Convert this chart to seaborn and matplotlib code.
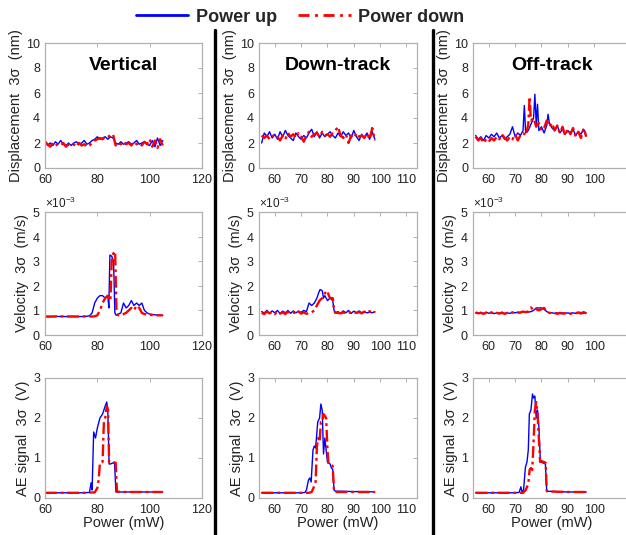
import numpy as np
import matplotlib
matplotlib.use("Agg")
import matplotlib.pyplot as plt
from matplotlib.lines import Line2D
from matplotlib.ticker import ScalarFormatter
import seaborn as sns

# ---------------- data ----------------
columns = ["Vertical", "Down-track", "Off-track"]

# Vertical
vert_power = [60, 61, 62, 63, 64, 65, 66, 67, 68, 69, 70, 71, 72, 73, 74, 75, 76, 77, 78, 79,
              80, 81, 82, 83, 84, 85, 86, 87, 88, 89, 90, 91, 92, 93, 94, 95, 96, 97, 98, 99,
              100, 101, 102, 103, 104, 105]
vert_disp_up = [2.2, 1.8, 2.0, 1.8, 2.1, 1.9, 2.2, 1.9, 1.8, 2.0, 1.8, 2.0, 2.1, 1.9, 2.0, 2.2, 1.9, 2.0, 2.2, 2.3,
                2.5, 2.3, 2.4, 2.5, 2.3, 2.5, 2.4, 2.0, 1.9, 2.1, 1.9, 2.0, 2.1, 1.9, 2.0, 2.2, 1.9, 2.0, 2.1, 1.9,
                1.8, 2.2, 1.7, 2.4, 1.8, 2.2]
vert_disp_down = [2.1, 1.9, 1.7, 2.0, 1.8, 1.9, 1.8, 2.0, 1.7, 1.9, 1.8, 1.9, 1.7, 2.0, 1.8, 1.9, 1.7, 1.8, 2.0, 2.2,
                  2.3, 2.4, 2.3, 2.5, 2.5, 2.6, 2.7, 1.8, 2.0, 1.9, 2.1, 1.9, 2.0, 1.8, 2.1, 1.9, 2.0, 1.8, 2.1, 1.9,
                  2.3, 1.7, 2.2, 1.6, 2.3, 1.8]
vert_vel_up_x = [60, 62, 64, 66, 68, 70, 72, 74, 76, 77, 78, 79, 80, 81, 82, 83, 84, 84.4, 84.8, 85.5,
                 86.2, 86.7, 87.2, 88, 89, 90, 91, 92, 93, 94, 95, 96, 97, 98, 99, 100, 102, 104, 105]
vert_vel_up = [0.75, 0.75, 0.76, 0.75, 0.75, 0.76, 0.75, 0.75, 0.76, 0.78, 0.9, 1.3, 1.5, 1.6, 1.6, 1.5, 1.6,
               1.1, 3.25, 3.2, 3.0, 0.9, 0.8, 0.85, 0.9, 1.3, 1.1, 1.2, 1.4, 1.2, 1.3, 1.2, 1.3, 1.0, 0.9,
               0.85, 0.82, 0.8, 0.8]
vert_vel_down_x = [60, 62, 64, 66, 68, 70, 72, 74, 76, 78, 79, 80, 81, 82, 83, 84, 85, 85.5, 86, 86.8,
                   87.3, 88, 89, 90, 91, 92, 93, 94, 95, 96, 97, 98, 100, 102, 104, 105]
vert_vel_down = [0.75, 0.75, 0.75, 0.76, 0.75, 0.75, 0.75, 0.76, 0.75, 0.75, 0.76, 0.8, 1.0, 1.3, 1.5, 1.6,
                 1.4, 3.0, 3.3, 3.4, 1.0, 0.8, 0.8, 0.85, 0.9, 1.0, 1.1, 1.0, 1.2, 1.1, 0.9, 0.85, 0.82,
                 0.8, 0.8, 0.8]
vert_ae_up_x = [60, 65, 70, 75, 77, 77.6, 78.0, 78.6, 79.3, 80, 81, 82, 83, 83.6, 84.0, 84.5, 85, 86,
                86.6, 87.1, 90, 95, 100, 105]
vert_ae_up = [0.13, 0.13, 0.13, 0.13, 0.14, 0.38, 0.2, 1.65, 1.5, 1.75, 2.0, 2.1, 2.3, 2.4, 2.2, 0.85,
              0.85, 0.88, 0.85, 0.15, 0.15, 0.15, 0.15, 0.15]
vert_ae_down_x = [60, 65, 70, 75, 79, 80, 80.5, 81, 82, 82.5, 83, 83.6, 84.1, 84.5, 85, 86, 87, 87.5,
                  90, 95, 100, 105]
vert_ae_down = [0.13, 0.13, 0.13, 0.13, 0.14, 0.25, 0.45, 0.88, 0.9, 1.9, 2.0, 2.3, 2.2, 0.9, 0.9, 0.9,
                0.88, 0.16, 0.15, 0.15, 0.15, 0.15]

# Down-track
down_power = [55, 56, 57, 58, 59, 60, 61, 62, 63, 64, 65, 66, 67, 68, 69, 70, 71, 72, 73, 74,
              75, 76, 77, 78, 79, 80, 81, 82, 83, 84, 85, 86, 87, 88, 89, 90, 91, 92, 93, 94,
              95, 96, 97, 98]
down_disp_up = [2.0, 2.8, 2.5, 2.9, 2.4, 2.7, 2.3, 2.9, 2.5, 3.0, 2.6, 2.4, 2.2, 2.8, 2.5, 2.3, 2.6, 2.4, 2.8, 3.1,
                2.5, 2.9, 2.4, 2.8, 2.5, 2.7, 2.9, 2.6, 2.4, 2.8, 2.5, 2.9, 2.6, 2.8, 2.4, 3.0, 2.5, 2.2, 2.7, 2.4,
                2.8, 2.3, 2.9, 2.3]
down_disp_down = [2.6, 2.4, 2.6, 2.3, 2.5, 2.7, 2.5, 2.2, 2.6, 2.3, 2.8, 2.5, 2.7, 2.4, 2.8, 2.5, 2.1, 2.6, 2.9, 2.5,
                  2.7, 2.8, 2.5, 2.9, 2.6, 2.7, 2.5, 2.8, 3.0, 3.3, 2.6, 2.4, 2.7, 2.0, 2.6, 2.4, 2.8, 2.5, 2.6, 2.4,
                  2.8, 2.3, 3.2, 2.2]
down_vel_up_x = [55, 56, 57, 58, 59, 60, 61, 62, 63, 64, 65, 66, 67, 68, 69, 70, 71, 72,
                 73, 74, 75, 76, 76.6, 77.2, 78, 78.5, 79, 80, 81, 82, 82.5, 83,
                 84, 85, 86, 87, 88, 89, 90, 91, 92, 93, 94, 95, 96, 97, 98]
down_vel_up = [0.95, 0.9, 1.0, 0.88, 0.98, 0.9, 1.0, 0.87, 0.97, 0.9, 1.0, 0.88, 0.98, 0.9, 0.97, 0.92, 1.0, 0.95,
               1.3, 1.2, 1.3, 1.5, 1.7, 1.85, 1.8, 1.5, 1.6, 1.4, 1.5, 1.4, 1.0, 0.9,
               0.95, 0.88, 0.98, 0.9, 1.0, 0.88, 0.97, 0.9, 0.98, 0.9, 0.95, 0.9, 0.93, 0.9, 0.95]
down_vel_down_x = [55, 56, 57, 58, 59, 60, 61, 62, 63, 64, 65, 66, 67, 68, 69, 70, 71, 72, 73, 74,
                   75, 76, 77, 78, 79, 80, 80.5, 81, 82, 82.5, 83,
                   84, 85, 86, 87, 88, 89, 90, 91, 92, 93, 94, 95, 96, 97, 98]
down_vel_down = [0.9, 0.85, 0.95, 0.88, 0.93, 0.85, 0.95, 0.87, 0.92, 0.85, 0.95, 0.88, 0.93, 0.86, 0.95, 0.87,
                 0.92, 0.86, 0.9, 0.92,
                 1.0, 1.2, 1.4, 1.5, 1.7, 1.8, 1.6, 1.5, 1.5, 1.0, 0.9,
                 0.9, 0.88, 0.92, 0.87, 0.93, 0.88, 0.92, 0.9, 0.93, 0.88, 0.95, 0.9, 0.97, 0.88, 0.95]
down_ae_up_x = [55, 60, 65, 70, 71.5, 72, 72.8, 73.3, 73.8, 74.5, 75, 75.5, 76.3, 77, 77.5, 78, 78.5, 79,
                79.5, 80, 81, 81.5, 82, 82.5, 83, 85, 90, 95, 98]
down_ae_up = [0.13, 0.13, 0.13, 0.13, 0.14, 0.2, 0.45, 0.5, 0.4, 1.2, 1.3, 1.25, 1.9, 2.0, 2.35, 2.2, 1.1,
              1.5, 1.2, 0.9, 0.85, 0.75, 0.72, 0.2, 0.17, 0.17, 0.16, 0.16, 0.15]
down_ae_down_x = [55, 60, 65, 70, 73, 74, 75, 75.5, 76, 76.5, 77, 77.5, 78, 78.5, 79, 79.5, 80, 80.4, 81,
                  82, 82.5, 85, 90, 95, 98]
down_ae_down = [0.13, 0.13, 0.13, 0.13, 0.13, 0.15, 0.3, 0.4, 1.3, 1.5, 1.4, 1.9, 1.9, 2.1, 2.05, 2.0, 1.2,
                0.85, 0.85, 0.8, 0.15, 0.15, 0.15, 0.15, 0.15]

# Off-track
off_disp_up_x = [55, 56, 57, 58, 59, 60, 61, 62, 63, 64, 65, 66, 67, 68, 69, 70, 71, 72, 73,
                 73.5, 74, 75, 76, 77, 77.5, 78, 78.5, 79, 80, 81, 82, 82.5, 83,
                 84, 85, 86, 87, 88, 89, 90, 91, 92, 93, 94, 95, 96, 97]
off_disp_up = [2.6, 2.3, 2.5, 2.2, 2.6, 2.4, 2.7, 2.5, 2.8, 2.4, 2.6, 2.3, 2.5, 2.7, 3.3, 2.5, 2.8, 2.6, 3.0,
               5.0, 2.8, 3.0, 3.5, 4.0, 5.9, 3.5, 5.1, 3.0, 3.3, 2.8, 3.4, 4.3, 3.6,
               3.2, 3.0, 3.4, 2.8, 3.1, 2.7, 3.0, 2.8, 3.1, 2.6, 2.9, 2.7, 3.1, 2.6]
off_disp_down_x = [55, 56, 57, 58, 59, 60, 61, 62, 63, 64, 65, 66, 67, 68, 69, 70, 71, 72, 73, 74, 75,
                   75.5,
                   76, 77, 78, 79, 80, 81, 82, 83, 84, 85, 86, 87, 88, 89, 90, 91, 92, 93, 94, 95, 96, 97]
off_disp_down = [2.5, 2.2, 2.4, 2.0, 2.3, 2.1, 2.4, 2.2, 2.5, 2.3, 2.7, 2.4, 2.2, 2.5, 2.3, 2.7, 2.2, 2.6, 2.8,
                 2.6, 3.5,
                 5.7,
                 3.8, 4.0, 3.3, 3.6, 3.0, 3.2, 3.8, 3.3, 3.6, 3.0, 3.4, 2.8, 3.3, 2.6, 3.1, 2.7, 3.2, 2.5,
                 2.9, 2.4, 3.2, 2.5]
off_power = [55, 56, 57, 58, 59, 60, 61, 62, 63, 64, 65, 66, 67, 68, 69, 70, 71, 72, 73, 74,
             75, 76, 77, 78, 79, 80, 81, 82, 83, 84, 85, 86, 87, 88, 89, 90, 91, 92, 93, 94,
             95, 96, 97]
off_vel_up = [0.9, 0.88, 0.92, 0.87, 0.93, 0.88, 0.92, 0.87, 0.9, 0.88, 0.93, 0.87, 0.9, 0.88, 0.92, 0.9,
              0.93, 0.9, 0.95, 0.92, 0.93,
              0.95, 1.0, 1.1, 1.1, 1.1, 1.05, 0.95, 0.9,
              0.9, 0.88, 0.9, 0.87, 0.9, 0.88, 0.9, 0.87, 0.9, 0.88, 0.9, 0.92, 0.88, 0.9]
off_vel_down = [0.92, 0.88, 0.9, 0.86, 0.9, 0.87, 0.92, 0.86, 0.9, 0.87, 0.9, 0.86, 0.9, 0.88, 0.92, 0.88,
                0.9, 0.92, 0.95, 0.93,
                0.95, 1.12, 1.0, 1.05, 1.0, 1.05, 1.1, 0.95, 0.9,
                0.88, 0.9, 0.86, 0.9, 0.87, 0.88, 0.9, 0.86, 0.9, 0.88, 0.92, 0.87, 0.93, 0.88]
off_ae_up_x = [55, 60, 65, 70, 71.5, 72.2, 72.6, 73.2, 73.9, 74.5, 75.0, 75.4, 76.0, 76.6, 77.0, 77.5,
               78.0, 78.5, 79.0, 79.6, 80.5, 81.5, 82.0, 85, 90, 95, 97]
off_ae_up = [0.13, 0.13, 0.13, 0.13, 0.14, 0.28, 0.15, 0.2, 0.77, 0.9, 1.2, 2.1, 2.2, 2.6, 2.5, 2.55, 2.0,
             2.2, 1.8, 0.9, 0.88, 0.85, 0.17, 0.16, 0.15, 0.15, 0.15]
off_ae_down_x = [55, 60, 65, 70, 73, 74, 75, 75.5, 76, 76.5, 77, 77.5, 78, 78.5, 79, 79.5, 80, 81, 81.6,
                 82.0, 85, 90, 95, 97]
off_ae_down = [0.13, 0.13, 0.13, 0.13, 0.13, 0.2, 0.35, 0.7, 0.75, 0.7, 1.4, 2.2, 2.4, 2.1, 1.5, 0.9, 0.92,
               0.9, 0.88, 0.17, 0.16, 0.15, 0.15, 0.15]

row_labels = ["Displacement  3σ  (nm)", "Velocity  3σ  (m/s)", "AE signal  3σ  (V)"]
legend_labels = ["Power up", "Power down"]

# ---------------- style ----------------
sns.set_style("white")
plt.rcParams["font.family"] = ["Liberation Sans", "DejaVu Sans"]
plt.rcParams["mathtext.fontset"] = "custom"
plt.rcParams["mathtext.rm"] = "Liberation Sans"

W, H = 626, 535
fig = plt.figure(figsize=(W / 100, H / 100), dpi=100)
fig.patch.set_facecolor("white")

col_lr = [(45, 202), (259, 417), (473, 631)]
row_tb = [(43, 168), (212, 335), (378, 498)]

panels = {
    (0, 0): (vert_power, vert_disp_up, vert_power, vert_disp_down),
    (1, 0): (vert_vel_up_x, vert_vel_up, vert_vel_down_x, vert_vel_down),
    (2, 0): (vert_ae_up_x, vert_ae_up, vert_ae_down_x, vert_ae_down),
    (0, 1): (down_power, down_disp_up, down_power, down_disp_down),
    (1, 1): (down_vel_up_x, down_vel_up, down_vel_down_x, down_vel_down),
    (2, 1): (down_ae_up_x, down_ae_up, down_ae_down_x, down_ae_down),
    (0, 2): (off_disp_up_x, off_disp_up, off_disp_down_x, off_disp_down),
    (1, 2): (off_power, off_vel_up, off_power, off_vel_down),
    (2, 2): (off_ae_up_x, off_ae_up, off_ae_down_x, off_ae_down),
}

blue = "#0000ff"
red = "#ff0000"
spine_col = "#b0b0b0"
dashdot = (0, (5, 1.6, 1.2, 1.6))

for (r, c), (xu, yu, xd, yd) in panels.items():
    l, rr = col_lr[c]
    t, b = row_tb[r]
    ax = fig.add_axes([l / W, 1 - b / H, (rr - l) / W, (b - t) / H])
    ax.set_facecolor("white")
    scale = 1e-3 if r == 1 else 1.0
    sns.lineplot(x=xu, y=np.array(yu) * scale, ax=ax, color=blue, lw=1.0,
                 estimator=None, sort=False)
    sns.lineplot(x=xd, y=np.array(yd) * scale, ax=ax, color=red, lw=1.7,
                 linestyle=dashdot, estimator=None, sort=False)
    if c == 0:
        ax.set_xlim(60, 120)
        ax.set_xticks([60, 80, 100, 120])
    else:
        ax.set_xlim(54, 114)
        ax.set_xticks([60, 70, 80, 90, 100, 110] if c == 1 else [60, 70, 80, 90, 100])
    if r == 0:
        ax.set_ylim(0, 10)
        ax.set_yticks([0, 2, 4, 6, 8, 10])
    elif r == 1:
        ax.set_ylim(0, 5e-3)
        ax.set_yticks([0, 1e-3, 2e-3, 3e-3, 4e-3, 5e-3])
        fmt = ScalarFormatter(useMathText=True)
        fmt.set_powerlimits((-2, 2))
        ax.yaxis.set_major_formatter(fmt)
        ax.yaxis.get_offset_text().set_fontsize(8.5)
        ax.yaxis.get_offset_text().set_color("#222222")
    else:
        ax.set_ylim(0, 3)
        ax.set_yticks([0, 1, 2, 3])
    for s in ax.spines.values():
        s.set_color(spine_col)
        s.set_linewidth(0.9)
        s.set_visible(True)
    ax.tick_params(direction="in", length=3, width=0.7, color=spine_col,
                   top=True, right=True, labelsize=9, labelcolor="#222222")
    ax.tick_params(axis="x", pad=4.5)
    ax.tick_params(axis="y", pad=3.5)
    ax.set_ylabel(row_labels[r], fontsize=10.5, color="#222222", labelpad=2)
    if r == 2:
        ax.set_xlabel("Power (mW)", fontsize=10.5, color="#222222", labelpad=0)
    else:
        ax.set_xlabel("")
    if r == 0:
        ax.text(0.5, 0.82, columns[c], transform=ax.transAxes, ha="center", va="center",
                fontsize=14, fontweight="bold", color="black")

# separators between columns
for xs in (215, 433):
    fig.add_artist(Line2D([xs / W, xs / W], [1 - 30 / H, 0], color="black", lw=2.4,
                          transform=fig.transFigure))

# legend
handles = [Line2D([], [], color=blue, lw=2.0),
           Line2D([], [], color=red, lw=2.0, linestyle=(0, (4, 2, 1, 2)))]
fig.legend(handles, legend_labels, loc="center", bbox_to_anchor=(300 / W, 1 - 17 / H),
           ncol=2, frameon=False, handlelength=2.9, handletextpad=0.4, columnspacing=1.2,
           prop={"weight": "bold", "size": 13})

fig.savefig("out.png", dpi=100, facecolor="white")
